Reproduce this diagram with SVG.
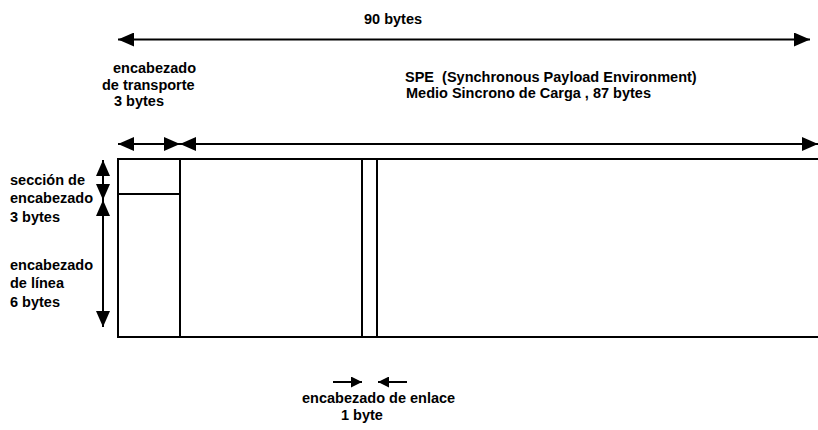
<svg xmlns="http://www.w3.org/2000/svg" width="818" height="430" viewBox="0 0 818 430">
<style>
text{font-family:"Liberation Sans",Arial,sans-serif;font-size:14.5px;font-weight:bold;fill:#000}
.ln{stroke:#000;stroke-width:2;fill:none}
.ar{stroke:#000;stroke-width:2;fill:none;marker-end:url(#ah);marker-start:url(#ah)}
.sm{stroke:#000;stroke-width:2;fill:none;marker-end:url(#sh)}
</style>
<defs>
<marker id="ah" viewBox="0 0 16 14" refX="16" refY="7" markerWidth="16" markerHeight="14" markerUnits="userSpaceOnUse" orient="auto-start-reverse"><path d="M0,0L16,7L0,14z" fill="#000"/></marker>
<marker id="sh" viewBox="0 0 11 11" refX="11" refY="5.5" markerWidth="11" markerHeight="11" markerUnits="userSpaceOnUse" orient="auto"><path d="M0,0L11,5.5L0,11z" fill="#000"/></marker>
</defs>
<rect width="818" height="430" fill="#fff"/>
<g id="frame">
<path class="ln" d="M818,159H118V337H818"/>
<line class="ln" x1="180" y1="159" x2="180" y2="337"/>
<line class="ln" x1="118" y1="194" x2="180" y2="194"/>
<line class="ln" x1="362" y1="159" x2="362" y2="337"/>
<line class="ln" x1="377" y1="159" x2="377" y2="337"/>
</g>
<g id="connectors">
<line class="ar" x1="118" y1="39.5" x2="810" y2="39.5"/>
<line class="ar" x1="118" y1="144" x2="180" y2="144"/>
<line class="ar" x1="180" y1="144" x2="818" y2="144"/>
<line class="ar" x1="103" y1="160" x2="103" y2="200"/>
<line class="ar" x1="103" y1="200" x2="103" y2="327"/>
<line class="sm" x1="333" y1="382" x2="362" y2="382"/>
<line class="sm" x1="407" y1="382" x2="378" y2="382"/>
</g>
<g id="labels">
<text x="364" y="24">90 bytes</text>
<text x="113" y="73">encabezado</text>
<text x="102" y="89.5">de transporte</text>
<text x="114" y="106">3 bytes</text>
<text x="405" y="81.5" xml:space="preserve">SPE  (Synchronous Payload Environment)</text>
<text x="406" y="98">Medio Sincrono de Carga , 87 bytes</text>
<text x="10" y="185">sección de</text>
<text x="10" y="203">encabezado</text>
<text x="10" y="222">3 bytes</text>
<text x="10" y="270">encabezado</text>
<text x="10" y="288">de línea</text>
<text x="10" y="307">6 bytes</text>
<text x="302" y="403">encabezado de enlace</text>
<text x="341" y="420">1 byte</text>
</g>
</svg>
